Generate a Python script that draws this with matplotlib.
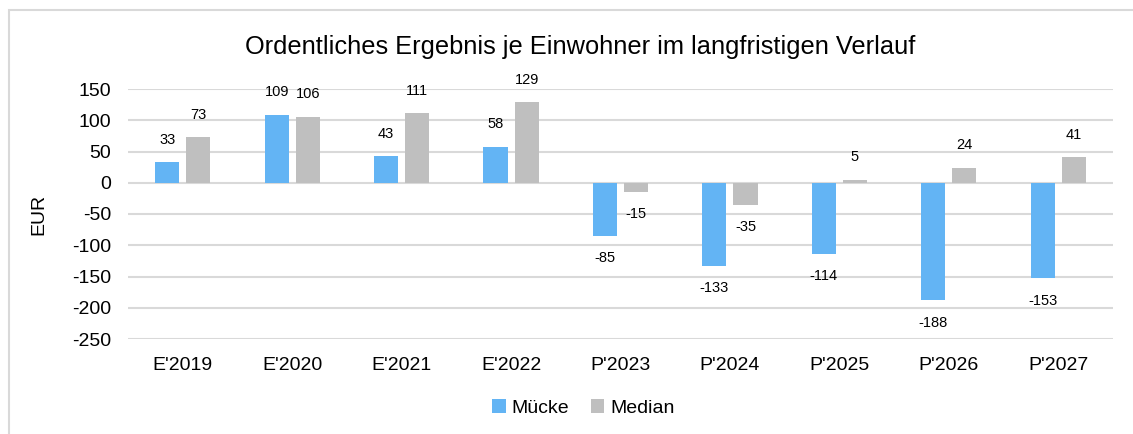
import numpy as np
import matplotlib
matplotlib.use('Agg')
import matplotlib.pyplot as plt
from matplotlib.patches import Rectangle

plt.rcParams['font.family'] = ['Liberation Sans', 'DejaVu Sans']
plt.rcParams['axes.unicode_minus'] = False

categories = ["E'2019", "E'2020", "E'2021", "E'2022", "P'2023", "P'2024", "P'2025", "P'2026", "P'2027"]
muecke = [33, 109, 43, 58, -85, -133, -114, -188, -153]
median = [73, 106, 111, 129, -15, -35, 5, 24, 41]

c_blue = '#63B4F4'
c_gray = '#BFBFBF'
n = 14  # font size

fig = plt.figure(figsize=(11.33, 4.34), dpi=100)
fig.patches.append(Rectangle((9/1133, -0.1), 1.2, 1 - 10/434 + 0.1, transform=fig.transFigure,
                             fill=False, edgecolor='#D9D9D9', linewidth=1.5))
ax = fig.add_axes([128/1133, 1 - 339/434, (1113-128)/1133, (339-89)/434])

x = np.arange(len(categories))
w = 0.22
off = 0.142
b1 = ax.bar(x - off, muecke, w, color=c_blue, label='Mücke', zorder=3)
b2 = ax.bar(x + off, median, w, color=c_gray, label='Median', zorder=3)

for bars, vals in ((b1, muecke), (b2, median)):
    for b, v in zip(bars, vals):
        xc = b.get_x() + b.get_width()/2
        if v >= 0:
            ax.annotate(str(v), (xc, v), xytext=(0, 11), textcoords='offset points',
                        ha='center', va='bottom', fontsize=10.5)
        else:
            ax.annotate(str(v), (xc, v), xytext=(0, -11), textcoords='offset points',
                        ha='center', va='top', fontsize=10.5)

ax.set_xlim(-0.5, len(categories) - 0.5)
ax.set_ylim(-250, 150)
ax.set_yticks(np.arange(-250, 151, 50))
ax.set_xticks(x)
ax.set_xticklabels(categories)
ax.tick_params(axis='both', length=0, labelsize=n)
ax.tick_params(axis='x', pad=13)
ax.tick_params(axis='y', pad=12)
ax.yaxis.grid(True, color='#D9D9D9', linewidth=1.5, zorder=0)
ax.set_axisbelow(True)
for s in ax.spines.values():
    s.set_visible(False)
ax.set_ylabel('EUR', fontsize=n, labelpad=18)
fig.text(0.512, 1 - 47/434, 'Ordentliches Ergebnis je Einwohner im langfristigen Verlauf',
         ha='center', va='center', fontsize=18.3)
fig.legend(handles=[b1, b2], loc='center', bbox_to_anchor=(0.515, 1 - 408/434), ncol=2,
           frameon=False, fontsize=n, handlelength=0.7, handleheight=0.7, handletextpad=0.3,
           columnspacing=1.1)

fig.savefig('out.png', dpi=100)
